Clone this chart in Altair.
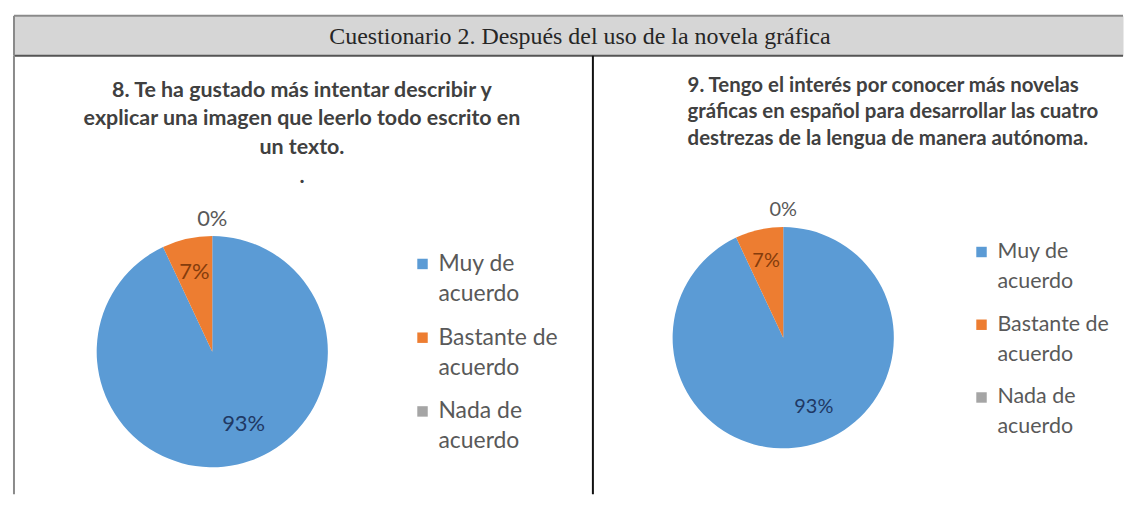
import altair as alt
import pandas as pd

# ---------------- data ----------------
encabezado = "Cuestionario 2. Después del uso de la novela gráfica"
categorias = ["Muy de acuerdo", "Bastante de acuerdo", "Nada de acuerdo"]
valores_p8 = [93, 7, 0]
valores_p9 = [93, 7, 0]
leyenda_l1 = ["Muy de", "Bastante de", "Nada de"]
leyenda_l2 = ["acuerdo", "acuerdo", "acuerdo"]
titulo_p8 = [
    "8. Te ha gustado más intentar describir y",
    "explicar una imagen que leerlo todo escrito en",
    "un texto.",
    ".",
]
titulo_p9 = [
    "9. Tengo el interés por conocer más novelas",
    "gráficas en español para desarrollar las cuatro",
    "destrezas  de la lengua de manera autónoma.",
]
colores = ["#5B9BD5", "#ED7D31", "#A5A5A5"]
colores_etiqueta = ["#1F3864", "#843C0C", "#595959"]

FONT = "Lato"
escala_color = alt.Scale(domain=categorias, range=colores)
uno = alt.Data(values=[{}])


def panel(valores, titulo, t_x, t_y, t_align, t_size, t_lh, cx, cy, r,
          lx, ly, lstep, l_size, p_size, w, h, bordes):
    df = pd.DataFrame({"categoria": categorias, "valor": valores, "orden": [0, 1, 2]})
    ld = pd.DataFrame({"categoria": categorias, "l1": leyenda_l1,
                       "l2": leyenda_l2, "idx": [0, 1, 2]})

    capas = []
    for (bx, col) in bordes:
        capas.append(
            alt.Chart(uno).mark_rule(color=col, strokeWidth=2).encode(
                x=alt.value(bx), y=alt.value(0), y2=alt.value(h))
        )

    arco = alt.Chart(df).mark_arc(radius=r).encode(
        theta=alt.Theta("valor:Q", stack=True),
        color=alt.Color("categoria:N", scale=escala_color, legend=None),
        order=alt.Order("orden:Q"),
        x=alt.value(cx), y=alt.value(cy),
    )
    capas.append(arco)

    base = alt.Chart(df).transform_window(
        fin="sum(valor)", sort=[alt.SortField("orden")], frame=[None, 0]
    ).transform_joinaggregate(total="sum(valor)").transform_calculate(
        medio="(datum.fin - datum.valor / 2) / datum.total",
        etiqueta="datum.valor + '%'",
    )
    ajustes = [(0.69 * r, 14, -5), (0.71 * r, 0, 0), (1.15 * r, 0, 0)]
    for i, (rad, dx, dy) in enumerate(ajustes):
        capas.append(
            base.transform_filter(f"datum.orden == {i}").mark_text(
                radius=rad, dx=dx, dy=dy, font=FONT, fontSize=p_size,
                color=colores_etiqueta[i], baseline="middle", align="center",
            ).encode(
                theta=alt.Theta("medio:Q", stack=False,
                                scale=alt.Scale(domain=[0, 1])),
                text="etiqueta:N",
                x=alt.value(cx), y=alt.value(cy),
            )
        )

    yscale = alt.Scale(domain=[0, 2], range=[ly, ly + 2 * lstep])
    capas.append(
        alt.Chart(ld).mark_square(size=110, opacity=1).encode(
            x=alt.value(lx), y=alt.Y("idx:Q", scale=yscale, axis=None),
            color=alt.Color("categoria:N", scale=escala_color, legend=None),
        )
    )
    for campo, dy in (("l1", 0), ("l2", 30)):
        capas.append(
            alt.Chart(ld).mark_text(
                align="left", baseline="middle", font=FONT, fontSize=l_size,
                color="#595959", dy=dy,
            ).encode(
                x=alt.value(lx + 16), y=alt.Y("idx:Q", scale=yscale, axis=None),
                text=f"{campo}:N",
            )
        )

    capas.append(
        alt.Chart(uno).mark_text(
            text=titulo, align=t_align, baseline="middle", lineHeight=t_lh,
            font=FONT, fontSize=t_size, fontWeight="bold", color="#404040",
        ).encode(x=alt.value(t_x), y=alt.value(t_y))
    )
    return alt.layer(*capas).properties(width=w, height=h).resolve_scale(
        theta="independent")


HW = 1113
cabecera = alt.layer(
    alt.Chart(uno).mark_rule(color="#8a8a8a", strokeWidth=2).encode(
        x=alt.value(0), x2=alt.value(HW), y=alt.value(0)),
    alt.Chart(uno).mark_rule(color="#555555", strokeWidth=2).encode(
        x=alt.value(0), x2=alt.value(HW), y=alt.value(40)),
    alt.Chart(uno).mark_rule(color="#8a8a8a", strokeWidth=2).encode(
        x=alt.value(0), y=alt.value(0), y2=alt.value(40)),
    alt.Chart(uno).mark_text(
        text=encabezado, font="Liberation Serif", fontSize=24,
        color="#262626", align="center", baseline="middle",
    ).encode(x=alt.value(568), y=alt.value(21)),
).properties(width=HW, height=40,
             view=alt.ViewBackground(fill="#d6d6d6", stroke="transparent"))

H = 440
izq = panel(valores_p8, titulo_p8, 289, 35, "center", 21.5, 29,
            199, 297, 116, 410, 209, 74, 23, 22, 581, H,
            [(0, "#8a8a8a"), (581, "#111111")])
der = panel(valores_p9, titulo_p9, 95, 30, "left", 20.5, 27,
            191, 283, 111, 390, 197, 73, 21.5, 20, 532, H, [])

chart = alt.vconcat(
    cabecera,
    alt.hconcat(izq, der, spacing=0, bounds="flush"),
    spacing=0, bounds="flush",
).properties(
    padding={"left": 4, "top": 5, "right": 0, "bottom": 0}
).configure_view(stroke="transparent")

chart.save("out.html", embed_options={"renderer": "svg", "actions": False})
